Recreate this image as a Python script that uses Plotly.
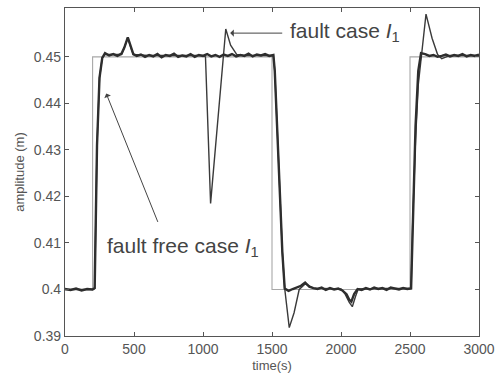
import plotly.graph_objects as go

# --- data -------------------------------------------------------------
t_ref = [0, 200, 200, 1500, 1500, 2500, 2500, 3000]
y_ref = [0.40, 0.40, 0.45, 0.45, 0.40, 0.40, 0.45, 0.45]

t_ff = [0, 40, 80, 120, 160, 200, 215, 225, 232, 250, 270, 290, 320, 350, 380, 410, 430, 455, 475, 495,
        520, 550, 580, 610, 640, 670, 700, 730, 760, 790, 820, 850, 880, 910, 940, 970, 1000, 1030, 1060, 1090,
        1120, 1150, 1180, 1210, 1240, 1270, 1300, 1330, 1360, 1390, 1420, 1450, 1480, 1510, 1520, 1540, 1560, 1575, 1592, 1620,
        1650, 1680, 1710, 1740, 1770, 1800, 1830, 1860, 1890, 1920, 1950, 1980, 2010, 2040, 2060, 2075, 2095, 2120, 2150, 2180,
        2210, 2240, 2270, 2300, 2330, 2360, 2390, 2420, 2450, 2480, 2508, 2520, 2540, 2560, 2580, 2610, 2640, 2670, 2700, 2730,
        2760, 2790, 2820, 2850, 2880, 2910, 2940, 2970, 3000]
y_ff = [0.4001, 0.3999, 0.4002, 0.3998, 0.4001, 0.4000, 0.4003, 0.4200, 0.4310, 0.4455, 0.4498, 0.4508, 0.4503, 0.4506, 0.4502, 0.4507, 0.4520, 0.4542, 0.4522, 0.4506,
        0.4502, 0.4505, 0.4500, 0.4504, 0.4501, 0.4506, 0.4499, 0.4504, 0.4502, 0.4507, 0.4500, 0.4503, 0.4501, 0.4506, 0.4500, 0.4504, 0.4502, 0.4506, 0.4501, 0.4504,
        0.4500, 0.4505, 0.4502, 0.4506, 0.4501, 0.4504, 0.4502, 0.4507, 0.4501, 0.4505, 0.4503, 0.4506, 0.4502, 0.4504, 0.4470, 0.4330, 0.4180, 0.4080, 0.4002, 0.3997,
        0.4001, 0.4004, 0.4008, 0.4015, 0.4006, 0.4003, 0.4001, 0.4004, 0.3999, 0.4003, 0.4000, 0.4002, 0.3998, 0.3990, 0.3978, 0.3974, 0.3990, 0.4001, 0.3999, 0.4003,
        0.4000, 0.4004, 0.4001, 0.4003, 0.3999, 0.4004, 0.4002, 0.4000, 0.4003, 0.4001, 0.4002, 0.4150, 0.4350, 0.4470, 0.4508, 0.4506, 0.4502, 0.4504, 0.4500, 0.4502,
        0.4505, 0.4501, 0.4504, 0.4502, 0.4506, 0.4501, 0.4504, 0.4502, 0.4505]

t_fc = [0, 200, 215, 225, 232, 250, 270, 290, 410, 430, 455, 475, 495, 600, 800, 1000, 1018, 1055, 1165, 1200,
        1245, 1300, 1510, 1520, 1540, 1560, 1575, 1592, 1625, 1660, 1697, 1740, 1800, 2000, 2030, 2060, 2082, 2105, 2125, 2300,
        2508, 2520, 2540, 2560, 2616, 2660, 2700, 2730, 2790, 3000]
y_fc = [0.4000, 0.4000, 0.4002, 0.4200, 0.4310, 0.4455, 0.4498, 0.4505, 0.4505, 0.4520, 0.4541, 0.4522, 0.4505, 0.4503, 0.4503, 0.4503, 0.4500, 0.4185, 0.4560, 0.4525,
        0.4505, 0.4503, 0.4503, 0.4470, 0.4330, 0.4180, 0.4080, 0.4002, 0.3918, 0.3950, 0.4000, 0.4012, 0.4003, 0.4001, 0.3990, 0.3972, 0.3963, 0.3985, 0.4001, 0.4002,
        0.4002, 0.4150, 0.4320, 0.4440, 0.4592, 0.4540, 0.4505, 0.4496, 0.4503, 0.4503]

x_ticks = [0, 500, 1000, 1500, 2000, 2500, 3000]
y_ticks = [0.39, 0.40, 0.41, 0.42, 0.43, 0.44, 0.45]
y_tick_text = ["0.39", "0.4", "0.41", "0.42", "0.43", "0.44", "0.45"]

# --- figure -----------------------------------------------------------
FONT = "Liberation Sans"
fig = go.Figure()
fig.add_trace(go.Scatter(x=t_ref, y=y_ref, mode="lines", line=dict(color="#a8a8a8", width=1.1),
                         showlegend=False, hoverinfo="skip"))
fig.add_trace(go.Scatter(x=t_fc, y=y_fc, mode="lines", line=dict(color="#3a3a3a", width=1.4),
                         showlegend=False))
fig.add_trace(go.Scatter(x=t_ff, y=y_ff, mode="lines", line=dict(color="#2e2e2e", width=2.4),
                         showlegend=False))

axis_common = dict(showgrid=False, zeroline=False, showline=True, linecolor="#555", linewidth=1.2,
                   mirror="ticks", ticks="inside", ticklen=4, tickcolor="#555",
                   tickfont=dict(family=FONT, size=14, color="#555"))
fig.update_xaxes(range=[0, 3000], tickvals=x_ticks, **axis_common,
                 title=dict(text="time(s)", font=dict(family=FONT, size=13, color="#555"), standoff=4))
fig.update_yaxes(range=[0.39, 0.4605], tickvals=y_ticks, ticktext=y_tick_text, **axis_common,
                 title=dict(text="amplitude (m)", font=dict(family=FONT, size=13, color="#555"), standoff=6))

ann_font = dict(family=FONT, size=21, color="#444")
fig.add_annotation(x=1197, y=0.4551, ax=1585, ay=0.4551, xref="x", yref="y", axref="x", ayref="y",
                   text="", showarrow=True, arrowhead=1, arrowsize=1.2, arrowwidth=1, arrowcolor="#444")
fig.add_annotation(x=1615, y=0.4553, xref="x", yref="y", xanchor="left", yanchor="middle",
                   text="fault case <i>I</i><sub>1</sub>", showarrow=False, font=ann_font)
fig.add_annotation(x=299, y=0.4421, ax=677, ay=0.4142, xref="x", yref="y", axref="x", ayref="y",
                   text="", showarrow=True, arrowhead=1, arrowsize=1.2, arrowwidth=1, arrowcolor="#444")
fig.add_annotation(x=290, y=0.4091, xref="x", yref="y", xanchor="left", yanchor="middle",
                   text="fault free case <i>I</i><sub>1</sub>", showarrow=False, font=ann_font)

fig.update_layout(width=502, height=378, margin=dict(l=65, r=16, t=7, b=42),
                  plot_bgcolor="white", paper_bgcolor="white")
fig.write_html("out.html", config={"displayModeBar": False},
               post_script="document.body.style.margin='0';document.body.style.padding='0';")
